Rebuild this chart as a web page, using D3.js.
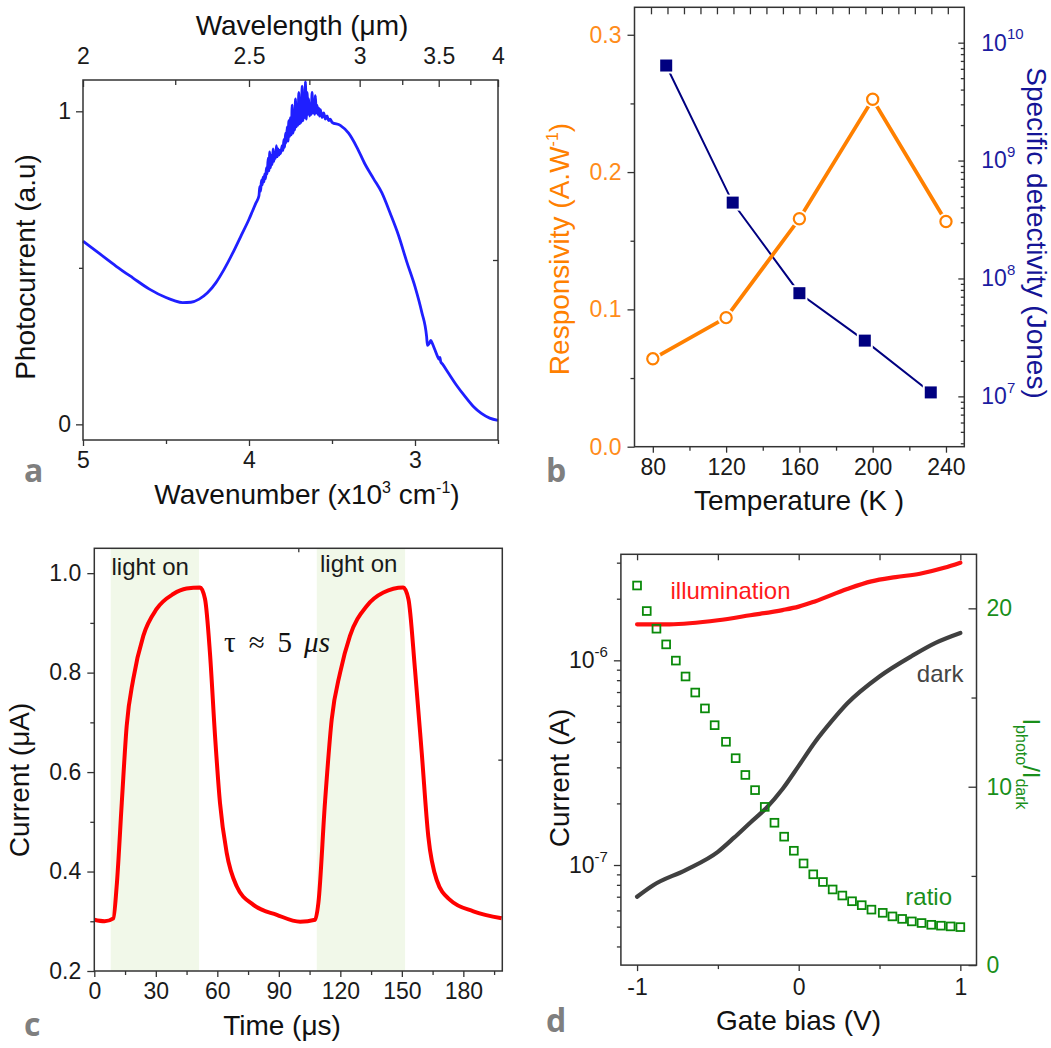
<!DOCTYPE html>
<html>
<head>
<meta charset="utf-8">
<script src="https://cdn.jsdelivr.net/npm/d3@7"></script>
<style>
  body { margin: 0; background: #fff; }
  svg, svg text { font-family: "Liberation Sans", Arial, sans-serif; }
</style>
</head>
<body>
<svg id="fig" width="1051" height="1048"></svg>
<script>
// ---- panel a : photocurrent spectrum (wavenumber x10^3 cm-1) ----
const spectrumK = [5.00, 4.90, 4.80, 4.70, 4.60, 4.50, 4.45, 4.40, 4.35, 4.30, 4.25, 4.20, 4.15, 4.10, 4.05, 4.00, 3.98, 3.96,
  3.94, 3.935, 3.93, 3.925, 3.92, 3.915, 3.91, 3.905, 3.90, 3.895, 3.89, 3.885, 3.88, 3.875, 3.87, 3.865, 3.86, 3.855,
  3.85, 3.845, 3.84, 3.835, 3.83, 3.825, 3.82, 3.815, 3.81, 3.80, 3.795, 3.79, 3.785, 3.78, 3.775, 3.77, 3.765, 3.76,
  3.755, 3.75, 3.745, 3.74, 3.735, 3.73, 3.725, 3.72, 3.715, 3.71, 3.705, 3.70, 3.695, 3.69, 3.685, 3.68, 3.675, 3.67,
  3.665, 3.66, 3.655, 3.65, 3.645, 3.64, 3.635, 3.63, 3.625, 3.62, 3.615, 3.61, 3.605, 3.60, 3.595, 3.59, 3.585, 3.58,
  3.575, 3.57, 3.56, 3.55, 3.54, 3.53, 3.52, 3.51, 3.50, 3.45, 3.40, 3.35, 3.30, 3.25, 3.20, 3.15, 3.10, 3.05, 3.00,
  2.96, 2.93, 2.925, 2.915, 2.905, 2.895, 2.88, 2.865, 2.855, 2.85, 2.845, 2.835, 2.80, 2.75, 2.70, 2.65, 2.60, 2.55, 2.50];
const spectrumV = [0.585, 0.545, 0.505, 0.468, 0.432, 0.405, 0.395, 0.389, 0.390, 0.400, 0.420, 0.452, 0.495, 0.545, 0.600, 0.655, 0.680, 0.705,
  0.730, 0.760, 0.745, 0.780, 0.765, 0.790, 0.775, 0.800, 0.785, 0.820, 0.800, 0.850, 0.810, 0.870, 0.820, 0.860, 0.830, 0.880,
  0.840, 0.870, 0.850, 0.890, 0.855, 0.880, 0.860, 0.875, 0.865, 0.890, 0.875, 0.910, 0.885, 0.930, 0.900, 0.950, 0.905, 0.970,
  0.920, 0.980, 0.925, 1.020, 0.930, 1.000, 0.940, 1.040, 0.950, 1.010, 0.955, 1.060, 0.960, 1.030, 0.965, 1.080, 0.970, 1.050,
  0.980, 1.095, 0.975, 1.060, 0.990, 1.040, 0.985, 1.020, 0.990, 1.060, 0.995, 1.030, 0.990, 1.050, 0.995, 1.020, 0.990, 1.010,
  0.985, 1.005, 0.980, 0.995, 0.975, 0.985, 0.970, 0.975, 0.965, 0.955, 0.930, 0.885, 0.830, 0.785, 0.740, 0.675, 0.605, 0.520, 0.440,
  0.360, 0.280, 0.252, 0.258, 0.268, 0.258, 0.238, 0.218, 0.208, 0.214, 0.200, 0.193, 0.165, 0.125, 0.090, 0.058, 0.035, 0.020, 0.013];
const wavenumberTicks = [5, 4, 3];
const wavelengthTicks = [2, 2.5, 3, 3.5, 4];

// ---- panel b : responsivity & detectivity vs temperature ----
const respT = [80, 120, 160, 200, 240];
const respV = [0.064, 0.094, 0.166, 0.253, 0.164];
const detT = [87.3, 123.6, 160, 195.7, 231.7];
const detV = [6.4e9, 4.4e8, 7.5e7, 2.97e7, 1.08e7];
const tempTicks = [80, 120, 160, 200, 240];
const respTicks = [0, 0.1, 0.2, 0.3];

// ---- panel c : time response ----
const timeUs = [0, 5, 9.3, 10.9, 13.4, 15.8, 19, 23.9, 30.4, 38.5, 45, 51.6, 54, 56.4, 58.9, 61.3, 64.6, 69.5, 77.6, 89, 100.4,
  107.7, 109.3, 112.5, 115.8, 119.9, 124.7, 132.9, 141, 150.7, 153.2, 156.4, 159.7, 162.9, 167, 173.5, 184.9, 198.7];
const currentUA = [0.303, 0.300, 0.306, 0.370, 0.538, 0.693, 0.787, 0.874, 0.928, 0.958, 0.969, 0.971, 0.948, 0.840, 0.672, 0.538, 0.437, 0.370, 0.333, 0.313, 0.299,
  0.303, 0.337, 0.538, 0.706, 0.800, 0.874, 0.934, 0.961, 0.971, 0.948, 0.807, 0.639, 0.471, 0.383, 0.343, 0.320, 0.306];
const lightOn = [[8.0, 51.1], [108.5, 151.6]];
const timeTicks = [0, 30, 60, 90, 120, 150, 180];
const currentTicks = [0.2, 0.4, 0.6, 0.8, 1.0];

// ---- panel d : gate bias sweep ----
const illumBias = [-1, -0.8, -0.5, -0.3, -0.1, 0, 0.1, 0.3, 0.45, 0.6, 0.75, 0.9, 1.0];
const illumI = [1.5e-6, 1.5e-6, 1.57e-6, 1.66e-6, 1.76e-6, 1.83e-6, 1.94e-6, 2.23e-6, 2.43e-6, 2.55e-6, 2.65e-6, 2.83e-6, 3.0e-6];
const darkBias = [-1, -0.9, -0.7, -0.5, -0.4, -0.3, -0.2, -0.1, 0, 0.1, 0.2, 0.3, 0.5, 0.7, 0.85, 1.0];
const darkI = [7.0e-8, 7.97e-8, 9.45e-8, 1.16e-7, 1.36e-7, 1.61e-7, 1.9e-7, 2.35e-7, 3.05e-7, 3.98e-7, 5.0e-7, 6.15e-7, 8.34e-7, 1.05e-6, 1.22e-6, 1.36e-6];
const ratioBias = [-1.00, -0.94, -0.88, -0.82, -0.76, -0.70, -0.64, -0.58, -0.52, -0.45, -0.39, -0.33, -0.27, -0.21, -0.15, -0.09, -0.03,
  0.03, 0.09, 0.15, 0.21, 0.27, 0.33, 0.39, 0.45, 0.52, 0.58, 0.64, 0.70, 0.76, 0.82, 0.88, 0.94, 1.00];
const ratioV = [21.28, 19.85, 18.86, 17.98, 17.07, 16.18, 15.28, 14.39, 13.45, 12.52, 11.60, 10.66, 9.81, 8.87, 7.98, 7.20, 6.41,
  5.70, 5.09, 4.66, 4.24, 3.90, 3.58, 3.36, 3.11, 2.93, 2.73, 2.59, 2.45, 2.36, 2.26, 2.21, 2.17, 2.13];
const biasTicks = [-1, 0, 1];
const ratioTicks = [0, 10, 20];

const svg = d3.select("#fig");
const FONT = '"Liberation Sans", Arial, sans-serif';
const TICK = 23, TITLE = 28;
const frameColor = "#333";

function styleAxis(g, color) {
  g.attr("font-family", FONT).attr("font-size", null);
  g.select(".domain").remove();
  g.selectAll(".tick line").attr("stroke", frameColor).attr("stroke-width", 1.3);
  g.selectAll(".tick text").attr("fill", color || "#1a1a1a").style("font-size", TICK + "px");
  return g;
}
function ticksOnly(g) {
  g.select(".domain").remove();
  g.selectAll(".tick text").remove();
  g.selectAll(".tick line").attr("stroke", frameColor).attr("stroke-width", 1.3);
}
function frame(x0, x1, y0, y1) {
  svg.append("rect").attr("x", x0).attr("y", y0).attr("width", x1 - x0).attr("height", y1 - y0)
    .attr("fill", "none").attr("stroke", frameColor).attr("stroke-width", 1.5);
}
function panelLetter(t, x, y) {
  svg.append("text").attr("x", x).attr("y", y).text(t)
    .attr("fill", "#7f7f7f").style("font-family", '"Open Sans", sans-serif')
    .style("font-weight", "bold").style("font-size", "32px");
}
const plain = d => String(d);

// ================= panel a =================
{
  const L = 83, R = 498, T = 80, B = 440;
  const x = d3.scaleLinear().domain([5, 2.5]).range([L, R]);
  const y = d3.scaleLinear().domain([-0.05, 1.1]).range([B, T]);

  svg.append("path").datum(d3.zip(spectrumK, spectrumV))
    .attr("fill", "none").attr("stroke", "#1f1fff").attr("stroke-width", 2.8).attr("stroke-linejoin", "round")
    .attr("d", d3.line().curve(d3.curveMonotoneX).x(d => x(d[0])).y(d => y(d[1])));

  frame(L, R, T, B);

  styleAxis(svg.append("g").attr("transform", `translate(0,${B})`)
    .call(d3.axisBottom(x).tickValues(wavenumberTicks).tickFormat(plain).tickSize(6).tickPadding(6)));
  ticksOnly(svg.append("g").attr("transform", `translate(0,${B})`)
    .call(d3.axisBottom(x).tickValues([4.5, 3.5, 2.5]).tickSize(4)));
  styleAxis(svg.append("g").attr("transform", `translate(${L},0)`)
    .call(d3.axisLeft(y).tickValues([0, 1]).tickFormat(plain).tickSize(7).tickPadding(5)));
  ticksOnly(svg.append("g").attr("transform", `translate(${L},0)`)
    .call(d3.axisLeft(y).tickValues([0.5]).tickSize(4)));
  ticksOnly(svg.append("g").attr("transform", `translate(${R},0)`)
    .call(d3.axisRight(y).tickValues([y.invert((T + B) / 2)]).tickSize(-5)));
  // top wavelength axis (lambda = 10 / k)
  styleAxis(svg.append("g").attr("transform", `translate(0,${T})`)
    .call(d3.axisTop(x).tickValues(wavelengthTicks.map(w => 10 / w)).tickFormat(k => plain(+(10 / k).toFixed(2)))
      .tickSize(-7).tickPadding(16)));
  ticksOnly(svg.append("g").attr("transform", `translate(0,${T})`)
    .call(d3.axisTop(x).tickValues([2.25, 2.75, 3.25, 3.75].map(w => 10 / w)).tickSize(-5)));

  svg.append("text").attr("x", 302).attr("y", 35).attr("text-anchor", "middle")
    .style("font-size", TITLE + "px").attr("fill", "#111").text("Wavelength (μm)");
  const xt = svg.append("text").attr("x", 307).attr("y", 504).attr("text-anchor", "middle")
    .style("font-size", TITLE + "px").attr("fill", "#111");
  xt.append("tspan").text("Wavenumber (x10");
  xt.append("tspan").text("3").attr("dy", -11).style("font-size", "16px");
  xt.append("tspan").text(" cm").attr("dy", 11);
  xt.append("tspan").text("-1").attr("dy", -11).style("font-size", "16px");
  xt.append("tspan").text(")").attr("dy", 11);
  svg.append("text").attr("transform", "translate(35,267) rotate(-90)").attr("text-anchor", "middle")
    .style("font-size", TITLE + "px").attr("fill", "#111").text("Photocurrent (a.u)");
  panelLetter("a", 24, 482);
}

// ================= panel b =================
{
  const L = 634.5, R = 964.3, T = 7.3, B = 446.7;
  const x = d3.scaleLinear().domain([70, 250]).range([L, R]);
  const y = d3.scaleLinear().domain([0, 0.32]).range([B, T]);
  const y2 = d3.scaleLog().domain([Math.pow(10, 6.573), Math.pow(10, 10.3)]).range([B, T]);
  const orange = "#ff8000", navy = "#000080";

  svg.append("path").datum(d3.zip(detT, detV))
    .attr("fill", "none").attr("stroke", navy).attr("stroke-width", 2)
    .attr("d", d3.line().x(d => x(d[0])).y(d => y2(d[1])));
  svg.append("path").datum(d3.zip(respT, respV))
    .attr("fill", "none").attr("stroke", orange).attr("stroke-width", 3.8)
    .attr("d", d3.line().x(d => x(d[0])).y(d => y(d[1])));

  const sq = svg.append("g").selectAll("g").data(d3.zip(detT, detV)).join("g")
    .attr("transform", d => `translate(${x(d[0])},${y2(d[1])})`);
  sq.append("rect").attr("x", -8).attr("y", -8).attr("width", 16).attr("height", 16).attr("fill", "#fff");
  sq.append("rect").attr("x", -6).attr("y", -6).attr("width", 12).attr("height", 12).attr("fill", navy);

  const ci = svg.append("g").selectAll("g").data(d3.zip(respT, respV)).join("g")
    .attr("transform", d => `translate(${x(d[0])},${y(d[1])})`);
  ci.append("circle").attr("r", 8.5).attr("fill", "#fff");
  ci.append("circle").attr("r", 5.6).attr("fill", "#fff").attr("stroke", orange).attr("stroke-width", 2.2);

  frame(L, R, T, B);

  styleAxis(svg.append("g").attr("transform", `translate(0,${B})`)
    .call(d3.axisBottom(x).tickValues(tempTicks).tickFormat(plain).tickSize(6).tickPadding(6)));
  ticksOnly(svg.append("g").attr("transform", `translate(0,${B})`)
    .call(d3.axisBottom(x).tickValues([100, 140, 180, 220]).tickSize(4)));
  styleAxis(svg.append("g").attr("transform", `translate(${L},0)`)
    .call(d3.axisLeft(y).tickValues(respTicks).tickFormat(d3.format(".1f")).tickSize(7).tickPadding(6)), "#ff8c1a");
  ticksOnly(svg.append("g").attr("transform", `translate(${L},0)`)
    .call(d3.axisLeft(y).tickValues([0.05, 0.15, 0.25]).tickSize(4)));
  const xTop = d3.scaleLinear().domain([0, 20]).range([L, R]);
  ticksOnly(svg.append("g").attr("transform", `translate(0,${T})`)
    .call(d3.axisTop(xTop).tickValues(d3.range(1, 20)).tickSize(-7)));

  const majors = [1e7, 1e8, 1e9, 1e10];
  const minors = [];
  [1e6, 1e7, 1e8, 1e9, 1e10].forEach(dec => [2, 3, 4, 5, 6, 7, 8, 9].forEach(m => {
    const v = dec * m;
    if (v > y2.domain()[0] && v < y2.domain()[1]) minors.push(v);
  }));
  ticksOnly(svg.append("g").attr("transform", `translate(${R},0)`)
    .call(d3.axisRight(y2).tickValues(minors).tickSize(-3.5)));
  const ra = svg.append("g").attr("transform", `translate(${R},0)`)
    .call(d3.axisRight(y2).tickValues(majors).tickSize(-6).tickPadding(17));
  styleAxis(ra, "#1c1ca0");
  ra.selectAll(".tick text").text(null).each(function (d) {
    const t = d3.select(this);
    t.append("tspan").text("10");
    t.append("tspan").text(Math.round(Math.log10(d))).attr("dy", "-0.75em").style("font-size", "15px");
  });

  svg.append("text").attr("x", 799).attr("y", 510).attr("text-anchor", "middle")
    .style("font-size", TITLE + "px").attr("fill", "#111").text("Temperature (K )");
  const lt = svg.append("text").attr("transform", "translate(569,249) rotate(-90)").attr("text-anchor", "middle")
    .style("font-size", TITLE + "px").attr("fill", orange);
  lt.append("tspan").text("Responsivity (A.W");
  lt.append("tspan").text("-1").attr("dy", -11).style("font-size", "16px");
  lt.append("tspan").text(")").attr("dy", 11);
  svg.append("text").attr("transform", "translate(1027,233) rotate(90)").attr("text-anchor", "middle")
    .style("font-size", TITLE + "px").attr("fill", "#141496").text("Specific detectivity (Jones)");
  panelLetter("b", 546, 482);
}

// ================= panel c =================
{
  const L = 94.3, R = 502.3, T = 548.3, B = 971;
  const x = d3.scaleLinear().domain([0, 199]).range([L, R]);
  const y = d3.scaleLinear().domain([0.2, 1.05]).range([B, T]);

  svg.append("g").selectAll("rect").data(lightOn).join("rect")
    .attr("x", d => x(d[0])).attr("width", d => x(d[1]) - x(d[0]))
    .attr("y", T).attr("height", B - T).attr("fill", "#f1f8e9");

  svg.append("path").datum(d3.zip(timeUs, currentUA))
    .attr("fill", "none").attr("stroke", "#ff0000").attr("stroke-width", 4).attr("stroke-linejoin", "round")
    .attr("d", d3.line().curve(d3.curveMonotoneX).x(d => x(d[0])).y(d => y(d[1])));

  frame(L, R, T, B);

  styleAxis(svg.append("g").attr("transform", `translate(0,${B})`)
    .call(d3.axisBottom(x).tickValues(timeTicks).tickFormat(plain).tickSize(6).tickPadding(6)));
  ticksOnly(svg.append("g").attr("transform", `translate(0,${B})`)
    .call(d3.axisBottom(x).tickValues([15, 45, 75, 105, 135, 165, 195]).tickSize(4)));
  styleAxis(svg.append("g").attr("transform", `translate(${L},0)`)
    .call(d3.axisLeft(y).tickValues(currentTicks).tickFormat(d3.format(".1f")).tickSize(7).tickPadding(6)));
  ticksOnly(svg.append("g").attr("transform", `translate(${L},0)`)
    .call(d3.axisLeft(y).tickValues([0.3, 0.5, 0.7, 0.9]).tickSize(4)));
  ticksOnly(svg.append("g").attr("transform", `translate(0,${T})`)
    .call(d3.axisTop(x).tickValues([x.invert((L + R) / 2)]).tickSize(-4)));
  ticksOnly(svg.append("g").attr("transform", `translate(${R},0)`)
    .call(d3.axisRight(y).tickValues([y.invert((T + B) / 2)]).tickSize(-4)));

  svg.append("text").attr("x", 111.5).attr("y", 575).style("font-size", "24px").attr("fill", "#1a1a1a").text("light on");
  svg.append("text").attr("x", 320).attr("y", 571.5).style("font-size", "24px").attr("fill", "#1a1a1a").text("light on");
  const tau = svg.append("text").attr("x", 224).attr("y", 652)
    .style("font-family", '"Liberation Serif", "DejaVu Serif", serif').style("font-size", "29px").attr("fill", "#111");
  tau.append("tspan").text("τ");
  tau.append("tspan").text("≈").attr("dx", 13);
  tau.append("tspan").text("5").attr("dx", 13);
  tau.append("tspan").text("μs").attr("dx", 12).style("font-style", "italic");

  svg.append("text").attr("x", 282).attr("y", 1035).attr("text-anchor", "middle")
    .style("font-size", TITLE + "px").attr("fill", "#111").text("Time (μs)");
  svg.append("text").attr("transform", "translate(29,780) rotate(-90)").attr("text-anchor", "middle")
    .style("font-size", TITLE + "px").attr("fill", "#111").text("Current (μA)");
  panelLetter("c", 24, 1036);
}

// ================= panel d =================
{
  const L = 620.9, R = 976.5, T = 554.3, B = 965.1;
  const x = d3.scaleLinear().domain([-1.1, 1.1]).range([L, R]);
  const y = d3.scaleLog().domain([Math.pow(10, -7.489), Math.pow(10, -5.482)]).range([B, T]);
  const y2 = d3.scaleLinear().domain([0, 23.03]).range([B, T]);
  const green = "#0a8a0a";

  svg.append("path").datum(d3.zip(illumBias, illumI))
    .attr("fill", "none").attr("stroke", "#ff1010").attr("stroke-width", 4.2).attr("stroke-linecap", "round")
    .attr("d", d3.line().curve(d3.curveMonotoneX).x(d => x(d[0])).y(d => y(d[1])));
  svg.append("path").datum(d3.zip(darkBias, darkI))
    .attr("fill", "none").attr("stroke", "#404040").attr("stroke-width", 4.2).attr("stroke-linecap", "round")
    .attr("d", d3.line().curve(d3.curveMonotoneX).x(d => x(d[0])).y(d => y(d[1])));
  svg.append("g").selectAll("rect").data(d3.zip(ratioBias, ratioV)).join("rect")
    .attr("x", d => x(d[0]) - 3.9).attr("y", d => y2(d[1]) - 3.9).attr("width", 7.8).attr("height", 7.8)
    .attr("fill", "none").attr("stroke", green).attr("stroke-width", 1.8);

  frame(L, R, T, B);

  styleAxis(svg.append("g").attr("transform", `translate(0,${B})`)
    .call(d3.axisBottom(x).tickValues(biasTicks).tickFormat(plain).tickSize(6).tickPadding(8)));
  ticksOnly(svg.append("g").attr("transform", `translate(0,${B})`)
    .call(d3.axisBottom(x).tickValues([-0.5, 0.5]).tickSize(4)));
  ticksOnly(svg.append("g").attr("transform", `translate(0,${T})`)
    .call(d3.axisTop(x).tickValues([-1, -0.5, 0, 0.5, 1]).tickSize(-6)));

  const minors = [];
  [1e-8, 1e-7, 1e-6].forEach(dec => [2, 3, 4, 5, 6, 7, 8, 9].forEach(m => {
    const v = dec * m;
    if (v > y.domain()[0] && v < y.domain()[1]) minors.push(v);
  }));
  ticksOnly(svg.append("g").attr("transform", `translate(${L},0)`)
    .call(d3.axisLeft(y).tickValues(minors).tickSize(4)));
  const la = svg.append("g").attr("transform", `translate(${L},0)`)
    .call(d3.axisLeft(y).tickValues([1e-7, 1e-6]).tickSize(7).tickPadding(6));
  styleAxis(la);
  la.selectAll(".tick text").text(null).each(function (d) {
    const t = d3.select(this);
    t.append("tspan").text("10");
    t.append("tspan").text(Math.round(Math.log10(d))).attr("dy", "-0.75em").style("font-size", "15px");
  });

  styleAxis(svg.append("g").attr("transform", `translate(${R},0)`)
    .call(d3.axisRight(y2).tickValues(ratioTicks).tickFormat(plain).tickSize(-8).tickPadding(10)), "#1a8f1a");
  ticksOnly(svg.append("g").attr("transform", `translate(${R},0)`)
    .call(d3.axisRight(y2).tickValues([5, 15]).tickSize(-5)));

  svg.append("text").attr("x", 670.5).attr("y", 599).style("font-size", "24px").attr("fill", "#ff1a1a").text("illumination");
  svg.append("text").attr("x", 963.5).attr("y", 681.5).attr("text-anchor", "end").style("font-size", "24px").attr("fill", "#454545").text("dark");
  svg.append("text").attr("x", 952).attr("y", 905).attr("text-anchor", "end").style("font-size", "24px").attr("fill", "#1a8f1a").text("ratio");

  svg.append("text").attr("x", 798.5).attr("y", 1030).attr("text-anchor", "middle")
    .style("font-size", TITLE + "px").attr("fill", "#111").text("Gate bias (V)");
  svg.append("text").attr("transform", "translate(569,778) rotate(-90)").attr("text-anchor", "middle")
    .style("font-size", TITLE + "px").attr("fill", "#111").text("Current (A)");
  const rt = svg.append("text").attr("transform", "translate(1023,764) rotate(90)").attr("text-anchor", "middle")
    .style("font-size", "24px").attr("fill", "#1a8f1a");
  rt.append("tspan").text("I");
  rt.append("tspan").text("photo").attr("dy", 7).style("font-size", "16px");
  rt.append("tspan").text("/I").attr("dy", -7);
  rt.append("tspan").text("dark").attr("dy", 7).style("font-size", "16px");
  panelLetter("d", 546, 1032);
}
</script>
</body>
</html>
